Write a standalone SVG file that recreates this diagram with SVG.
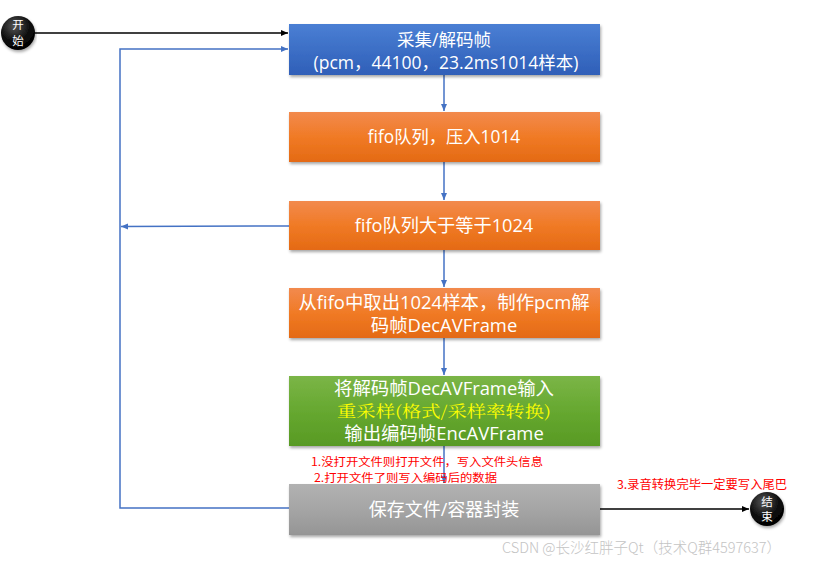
<svg xmlns="http://www.w3.org/2000/svg" width="822" height="563" viewBox="0 0 822 563">
<style>
.box{stroke:none;filter:url(#sh)}
.t{font-family:"Open Sans","Noto Sans CJK SC",sans-serif;fill:#fff;text-anchor:middle}
.c{font-family:"Noto Sans CJK SC",sans-serif;fill:#fff;text-anchor:middle;font-size:11.5px}
.blue{stroke:#4472C4;stroke-width:1.5;fill:none}
.blk{stroke:#000;stroke-width:1.5;fill:none}
.red{font-family:"Noto Sans CJK SC",sans-serif;fill:#FF0000}
</style>
<defs>
<linearGradient id="gb" x1="0" y1="0" x2="0" y2="1"><stop offset="0" stop-color="#4A7FD4"/><stop offset="1" stop-color="#2F5FB8"/></linearGradient>
<linearGradient id="go" x1="0" y1="0" x2="0" y2="1"><stop offset="0" stop-color="#F28A4E"/><stop offset="0.5" stop-color="#F07A25"/><stop offset="1" stop-color="#E46A14"/></linearGradient>
<linearGradient id="gg" x1="0" y1="0" x2="0" y2="1"><stop offset="0" stop-color="#7BB547"/><stop offset="0.5" stop-color="#66A830"/><stop offset="1" stop-color="#589A24"/></linearGradient>
<linearGradient id="gr" x1="0" y1="0" x2="0" y2="1"><stop offset="0" stop-color="#B2B2B2"/><stop offset="0.5" stop-color="#A5A5A5"/><stop offset="1" stop-color="#959595"/></linearGradient>
<radialGradient id="gc" cx="0.4" cy="0.3" r="0.7"><stop offset="0" stop-color="#555"/><stop offset="0.6" stop-color="#111"/><stop offset="1" stop-color="#000"/></radialGradient>
<filter id="sh" x="-5%" y="-10%" width="110%" height="130%"><feDropShadow dx="1" dy="2" stdDeviation="1.5" flood-color="#000" flood-opacity="0.35"/></filter>
<marker id="ab" markerWidth="8" markerHeight="8" refX="7" refY="4" orient="auto" markerUnits="userSpaceOnUse"><path d="M0,1 L7,4 L0,7 z" fill="#4472C4"/></marker>
<marker id="ak" markerWidth="8" markerHeight="8" refX="7" refY="4" orient="auto" markerUnits="userSpaceOnUse"><path d="M0,1 L7,4 L0,7 z" fill="#000"/></marker>
</defs>
<rect width="822" height="563" fill="#fff"/>
<g id="connectors">
<line class="blk" x1="35" y1="33" x2="288" y2="33" marker-end="url(#ak)"/>
<polyline class="blue" points="289,508 120,508 120,49 288,49" marker-end="url(#ab)"/>
<line class="blue" x1="289" y1="226" x2="121" y2="226.5" marker-end="url(#ab)"/>
<line class="blue" x1="444" y1="75" x2="444" y2="111" marker-end="url(#ab)"/>
<line class="blue" x1="444" y1="162" x2="444" y2="200" marker-end="url(#ab)"/>
<line class="blue" x1="444" y1="250" x2="444" y2="287" marker-end="url(#ab)"/>
<line class="blue" x1="444" y1="338" x2="444" y2="375" marker-end="url(#ab)"/>
<line class="blue" x1="444" y1="446" x2="444" y2="483" marker-end="url(#ab)"/>
<line class="blk" x1="600" y1="509" x2="749" y2="509" marker-end="url(#ak)"/>
</g>
<g id="start">
<circle cx="18" cy="33" r="17" fill="url(#gc)" filter="url(#sh)"/>
<text class="c" x="18" y="29">开</text>
<text class="c" x="18" y="45">始</text>
</g>
<g id="n1">
<rect class="box" x="289" y="24" width="311" height="51" fill="url(#gb)"/>
<text class="t" x="444" y="46" font-size="17.5">采集/解码帧</text>
<text class="t" x="446" y="69" font-size="17.5">(pcm，44100，23.2ms1014样本)</text>
</g>
<g id="n2">
<rect class="box" x="289" y="112" width="311" height="50" fill="url(#go)"/>
<text class="t" x="444" y="143" font-size="17.3">fifo队列，压入1014</text>
</g>
<g id="n3">
<rect class="box" x="289" y="201" width="311" height="49" fill="url(#go)"/>
<text class="t" x="444" y="232" font-size="18.2">fifo队列大于等于1024</text>
</g>
<g id="n4">
<rect class="box" x="289" y="288" width="311" height="50" fill="url(#go)"/>
<text class="t" x="444" y="309" font-size="18.4">从fifo中取出1024样本，制作pcm解</text>
<text class="t" x="444" y="332" font-size="18.4">码帧DecAVFrame</text>
</g>
<g id="n5">
<rect class="box" x="289" y="376" width="311" height="70" fill="url(#gg)"/>
<text class="t" x="444" y="395" font-size="18.4">将解码帧DecAVFrame输入</text>
<text class="t" x="444" y="417" font-size="16" textLength="214" lengthAdjust="spacingAndGlyphs" style="fill:#FFFF00;font-family:'Noto Serif CJK SC','Noto Sans CJK SC',serif">重采样(格式/采样率转换)</text>
<text class="t" x="444" y="440" font-size="18.4">输出编码帧EncAVFrame</text>
</g>
<g id="n6">
<rect class="box" x="289" y="484" width="311" height="51" fill="url(#gr)"/>
<text class="t" x="444" y="516" font-size="18">保存文件/容器封装</text>
</g>
<g id="end">
<circle cx="767" cy="509" r="17" fill="url(#gc)" filter="url(#sh)"/>
<text class="c" x="767" y="506">结</text>
<text class="c" x="767" y="521">束</text>
</g>
<g id="labels">
<text class="red" x="311" y="466" font-size="11.5" textLength="232" lengthAdjust="spacingAndGlyphs">1.没打开文件则打开文件，写入文件头信息</text>
<text class="red" x="314" y="482" font-size="11.5" textLength="183" lengthAdjust="spacingAndGlyphs">2.打开文件了则写入编码后的数据</text>
<text class="red" x="617" y="489" font-size="12" textLength="170" lengthAdjust="spacingAndGlyphs">3.录音转换完毕一定要写入尾巴</text>
<text x="502" y="553" font-family="'Noto Sans CJK SC',sans-serif" font-size="14.5" font-weight="300" fill="#C4C4C4">CSDN @长沙红胖子Qt（技术Q群4597637）</text>
</g>
</svg>
